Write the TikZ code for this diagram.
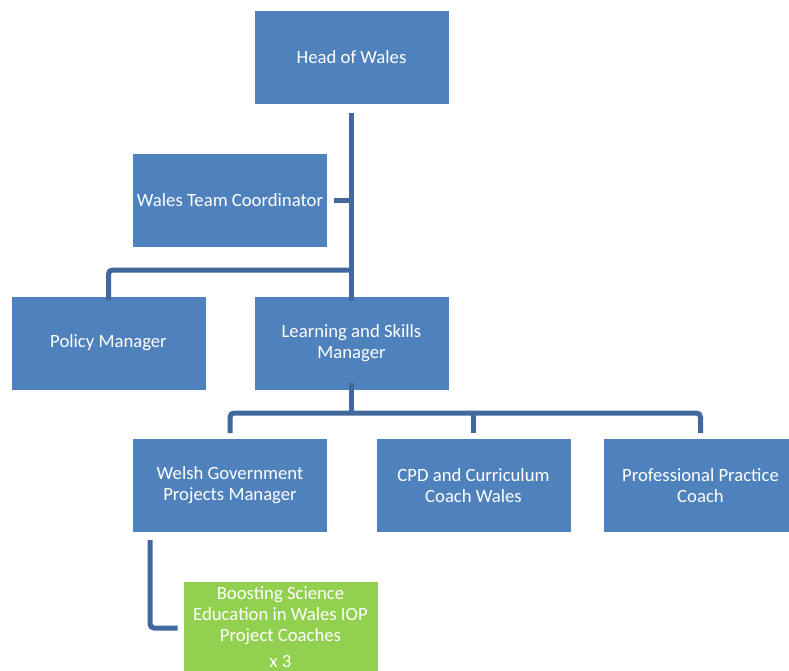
\documentclass[tikz,border=0pt]{standalone}
\usepackage{fontspec}
\setmainfont{Carlito}
\definecolor{boxblue}{HTML}{4F81BD}
\definecolor{linkblue}{HTML}{41699E}
\definecolor{boxgreen}{HTML}{92D050}
\begin{document}
\begin{tikzpicture}[x=1pt,y=-1pt,
  box/.style={fill=boxblue,draw=white,line width=0.6pt,minimum width=195pt,minimum height=94pt,
    text=white,align=center,font=\fontsize{18.7}{21}\selectfont,inner sep=0pt},
  gbox/.style={box,fill=boxgreen},
  link/.style={draw=linkblue,line width=5pt,rounded corners=4pt}]
\useasboundingbox (0,0) rectangle (789,671);
\clip (0,0) rectangle (789,671);
\node[box] (head) at (351.5,57.5) {Head of Wales};
\node[box] (coord) at (230,200.5) {Wales Team Coordinator};
\node[box] (policy) at (108.5,343) {Policy Manager};
\node[box] (lsm) at (351.5,343) {Learning and Skills\\Manager};
\node[box] (wgpm) at (230,485.5) {Welsh Government\\Projects Manager};
\node[box] (cpd) at (473.5,485.5) {CPD and Curriculum\\Coach Wales};
\node[box] (ppc) at (700.5,485.5) {Professional Practice\\Coach};
\node[gbox,minimum height=100pt] (bse) at (280.5,631) {};
\node[text=white,align=center,font=\fontsize{18.7}{21}\selectfont,anchor=north,inner sep=0pt] (bsetext) at (280.5,586) {Boosting Science\\Education in Wales IOP\\Project Coaches\\[5pt]x 3};
\coordinate (j1) at (351.5,270);
\coordinate (j2) at (351.5,413);
\draw[link] (head.south) ++(0,8) -- ([yshift=-5pt]lsm.north);
\draw[link] ([xshift=6pt]coord.east) -- (coord.east -| head.south);
\draw[link] (j1) -- (j1 -| policy.north) -- ([yshift=-5pt]policy.north);
\draw[link] ([yshift=7pt]lsm.south) -- (j2);
\draw[link] (j2 -| wgpm.north) ++(0,20) -- ++(0,-20) -- (j2 -| ppc.north) -- ++(0,20);
\draw[link] (j2 -| cpd.north) -- ++(0,20);
\coordinate (g1) at (150,540);
\draw[link] (g1) |- ([xshift=-5pt]bse.west |- 0,628);
\end{tikzpicture}
\end{document}
